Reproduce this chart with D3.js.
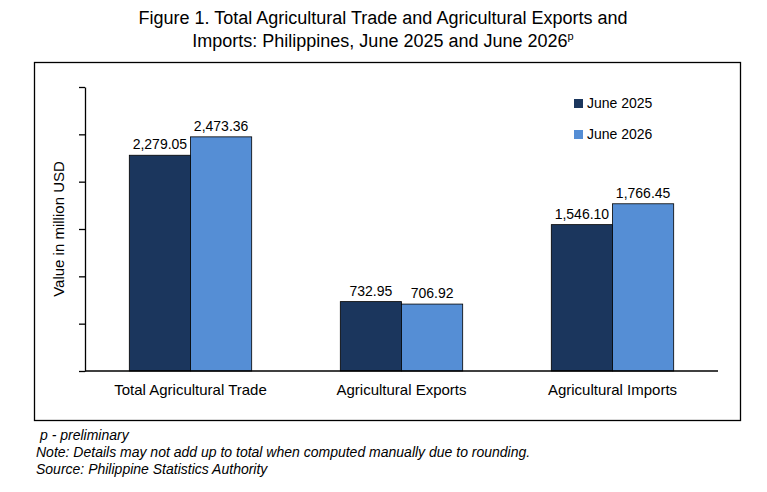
<!DOCTYPE html>
<html><head><meta charset="utf-8">
<script src="https://cdn.jsdelivr.net/npm/d3@7"></script>
<style>body{margin:0;background:#fff;font-family:"Liberation Sans",Arial,sans-serif}</style>
</head><body><svg></svg>
<script>
const categories = ["Total Agricultural Trade", "Agricultural Exports", "Agricultural Imports"];
const series = ["June 2025", "June 2026"];
const values2025 = [2279.05, 732.95, 1546.10];
const values2026 = [2473.36, 706.92, 1766.45];
const yTicks = [0, 500, 1000, 1500, 2000, 2500, 3000];
const colors = ["#1b365d", "#558ed5"];

const width = 767, height = 492;
const svg = d3.select("svg").attr("width", width).attr("height", height);

svg.append("text").attr("x", 383).attr("y", 24).attr("text-anchor", "middle")
  .attr("font-size", 18).text("Figure 1. Total Agricultural Trade and Agricultural Exports and");
const t2 = svg.append("text").attr("x", 383).attr("y", 47).attr("text-anchor", "middle").attr("font-size", 18);
t2.append("tspan").text("Imports: Philippines, June 2025 and June 2026");
t2.append("tspan").attr("font-size", 11).attr("dy", -7).text("p");

svg.append("rect").attr("x", 34.5).attr("y", 62.5).attr("width", 706).attr("height", 358)
  .attr("fill", "none").attr("stroke", "#000").attr("stroke-width", 1.3);

const x = d3.scaleBand().domain(categories).range([85, 718]).paddingInner(0.42).paddingOuter(0.21);
const xs = d3.scaleBand().domain(series).range([0, x.bandwidth()]);
const y = d3.scaleLinear().domain([0, 3000]).range([371, 87]);

const data = categories.map((c, i) => ({ c, v: [values2025[i], values2026[i]] }));
const g = svg.append("g").selectAll("g").data(data).enter().append("g")
  .attr("transform", d => `translate(${x(d.c)},0)`);
g.selectAll("rect").data(d => d.v).enter().append("rect")
  .attr("x", (v, i) => xs(series[i])).attr("y", v => y(v))
  .attr("width", xs.bandwidth()).attr("height", v => y(0) - y(v))
  .attr("fill", (v, i) => colors[i]).attr("stroke", "#000").attr("stroke-width", 0.8);
g.selectAll("text").data(d => d.v).enter().append("text")
  .attr("x", (v, i) => xs(series[i]) + xs.bandwidth() / 2).attr("y", v => y(v) - 6)
  .attr("text-anchor", "middle").attr("font-size", 14)
  .text(v => d3.format(",.2f")(v));

const yAxis = svg.append("g").attr("transform", "translate(85,0)")
  .call(d3.axisLeft(y).tickValues(yTicks).tickFormat("").tickSize(6).tickSizeOuter(0));
yAxis.selectAll("path,line").attr("stroke", "#000").attr("stroke-width", 1.3);

const xAxis = svg.append("g").attr("transform", "translate(0,371)")
  .call(d3.axisBottom(x).tickSize(0).tickSizeOuter(0).tickPadding(13));
xAxis.select("path").attr("d", "M85,0H718").attr("stroke", "#000").attr("stroke-width", 1.3);
xAxis.selectAll("text").attr("font-size", 15).attr("fill", "#000")
  .attr("font-family", "Liberation Sans, Arial, sans-serif");

svg.append("text").attr("transform", "translate(64,229) rotate(-90)").attr("text-anchor", "middle")
  .attr("font-size", 15).text("Value in million USD");

const leg = svg.append("g").selectAll("g").data(series).enter().append("g")
  .attr("transform", (d, i) => `translate(574,${99 + i * 31})`);
leg.append("rect").attr("width", 9).attr("height", 9).attr("fill", (d, i) => colors[i]);
leg.append("text").attr("x", 13).attr("y", 9).attr("font-size", 14).text(d => d);

const notes = ["p - preliminary", "Note: Details may not add up to total when computed manually due to rounding.",
  "Source: Philippine Statistics Authority"];
svg.append("g").selectAll("text").data(notes).enter().append("text")
  .attr("x", (d, i) => i === 0 ? 40 : 36).attr("y", (d, i) => 440 + i * 17)
  .attr("font-size", 14).attr("font-style", "italic").text(d => d);
</script></body></html>
